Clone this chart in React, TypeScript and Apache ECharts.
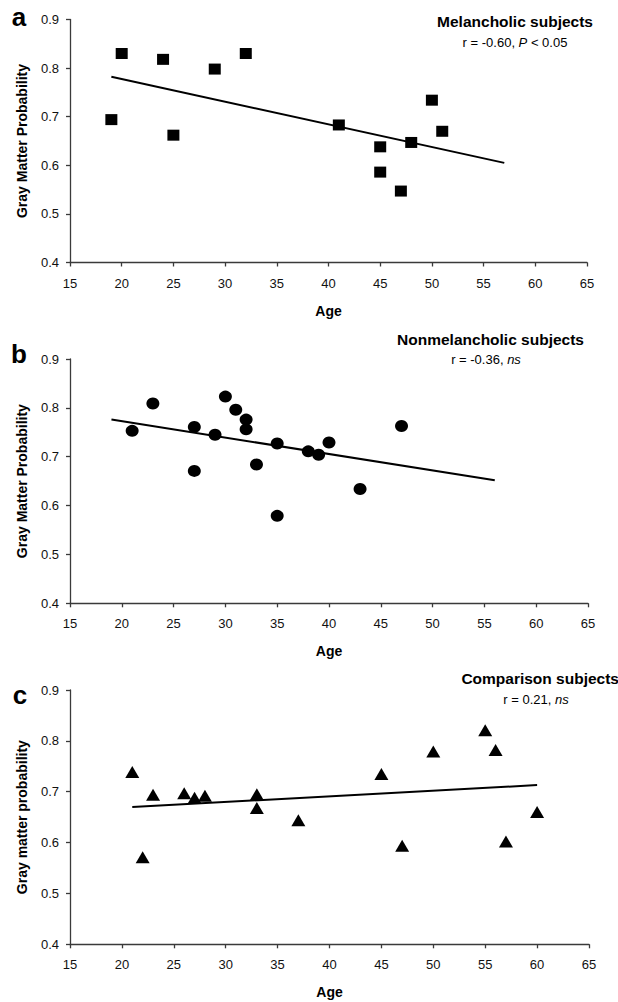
import React, { useEffect, useRef } from "react";
import * as echarts from "echarts";

// ---------- data ----------
const xTicks = [15, 20, 25, 30, 35, 40, 45, 50, 55, 60, 65];
const yTicks = [0.4, 0.5, 0.6, 0.7, 0.8, 0.9];

const melAge = [19, 20, 24, 25, 29, 32, 41, 45, 45, 47, 48, 50, 51];
const melGM = [0.694, 0.83, 0.818, 0.662, 0.798, 0.83, 0.683, 0.638, 0.586, 0.547, 0.647, 0.734, 0.67];
const melTrendAge = [19, 57];
const melTrendGM = [0.782, 0.605];

const nonAge = [21, 23, 27, 27, 29, 30, 31, 32, 32, 33, 35, 35, 38, 39, 40, 43, 47];
const nonGM = [0.753, 0.809, 0.761, 0.671, 0.745, 0.823, 0.796, 0.776, 0.756, 0.684, 0.727, 0.579, 0.711, 0.704, 0.729, 0.634, 0.763];
const nonTrendAge = [19, 56];
const nonTrendGM = [0.776, 0.652];

const cmpAge = [21, 22, 23, 26, 27, 28, 33, 33, 37, 45, 47, 50, 55, 56, 57, 60];
const cmpGM = [0.739, 0.571, 0.694, 0.697, 0.688, 0.692, 0.695, 0.668, 0.644, 0.735, 0.594, 0.779, 0.821, 0.782, 0.602, 0.66];
const cmpTrendAge = [21, 60];
const cmpTrendGM = [0.67, 0.713];

const panelLetters = ["a", "b", "c"];
const panelTitles = ["Melancholic subjects", "Nonmelancholic subjects", "Comparison subjects"];
const panelStats = [
  ["r = -0.60, ", "P", " < 0.05"],
  ["r = -0.36, ", "ns", ""],
  ["r = 0.21, ", "ns", ""],
];
const yNames = ["Gray Matter Probability", "Gray Matter Probability", "Gray matter probability"];
const xName = "Age";

// ---------- layout ----------
const FONT = "'Liberation Sans', Arial, Helvetica, sans-serif";
const grids = [
  { left: 70, top: 19.5, width: 517, height: 243 },
  { left: 70, top: 359, width: 518, height: 244.3 },
  { left: 70, top: 690, width: 519, height: 254.3 },
];
const letterPos = [
  { x: 19, y: 17 },
  { x: 19, y: 354 },
  { x: 20, y: 695 },
];
const titlePos = [
  { x: 593, y: 21 },
  { x: 584, y: 339.5 },
  { x: 619, y: 678 },
];
const statPos = [
  { x: 515, y: 42.5 },
  { x: 486, y: 359.5 },
  { x: 536, y: 699 },
];
const symbols = ["rect", "circle", "triangle"];
const symbolSizes = [
  [12, 11],
  [13, 12],
  [14, 12],
];

const zip = (a: number[], b: number[]) => a.map((v, i) => [v, b[i]]);

export default function App() {
  const ref = useRef<HTMLDivElement>(null);
  useEffect(() => {
    if (!ref.current) return;
    const chart = echarts.init(ref.current, null, { renderer: "svg" });
    const pts = [zip(melAge, melGM), zip(nonAge, nonGM), zip(cmpAge, cmpGM)];
    const trends = [zip(melTrendAge, melTrendGM), zip(nonTrendAge, nonTrendGM), zip(cmpTrendAge, cmpTrendGM)];
    const axisColor = "#3a3a3a";

    const xAxis = grids.map((_, i) => ({
      type: "value",
      gridIndex: i,
      min: xTicks[0],
      max: xTicks[xTicks.length - 1],
      interval: xTicks[1] - xTicks[0],
      name: xName,
      nameLocation: "middle",
      nameGap: 41,
      nameTextStyle: { fontFamily: FONT, fontWeight: "bold", fontSize: 14, color: "#000" },
      axisLine: { show: true, onZero: false, lineStyle: { color: axisColor, width: 1.3 } },
      axisTick: { show: true, inside: false, length: 4, lineStyle: { color: axisColor, width: 1.3 } },
      axisLabel: { fontFamily: FONT, fontSize: 13, color: "#111", margin: 14 },
      splitLine: { show: false },
    }));
    const yAxis = grids.map((_, i) => ({
      type: "value",
      gridIndex: i,
      min: yTicks[0],
      max: yTicks[yTicks.length - 1],
      interval: 0.1,
      name: yNames[i],
      nameLocation: "middle",
      nameGap: 41,
      nameTextStyle: { fontFamily: FONT, fontWeight: "bold", fontSize: 14, color: "#000" },
      axisLine: { show: true, onZero: false, lineStyle: { color: axisColor, width: 1.3 } },
      axisTick: { show: true, inside: false, length: 4, lineStyle: { color: axisColor, width: 1.3 } },
      axisLabel: {
        fontFamily: FONT,
        fontSize: 13,
        color: "#111",
        margin: 11,
        formatter: (v: number) => v.toFixed(1),
      },
      splitLine: { show: false },
    }));

    const series: any[] = [];
    for (let i = 0; i < 3; i++) {
      series.push({
        type: "line",
        xAxisIndex: i,
        yAxisIndex: i,
        data: trends[i],
        symbol: "none",
        silent: true,
        lineStyle: { color: "#000", width: 2 },
        z: 2,
      });
      series.push({
        type: "scatter",
        xAxisIndex: i,
        yAxisIndex: i,
        data: pts[i],
        symbol: symbols[i],
        symbolSize: symbolSizes[i],
        itemStyle: { color: "#000", opacity: 1 },
        z: 3,
      });
    }

    const graphic: any[] = [];
    for (let i = 0; i < 3; i++) {
      graphic.push({
        type: "text",
        x: letterPos[i].x,
        y: letterPos[i].y,
        style: {
          text: panelLetters[i],
          fontFamily: FONT,
          fontWeight: "bold",
          fontSize: 26,
          fill: "#000",
          textAlign: "center",
          textVerticalAlign: "middle",
        },
      });
      graphic.push({
        type: "text",
        x: titlePos[i].x,
        y: titlePos[i].y,
        style: {
          text: panelTitles[i],
          fontFamily: FONT,
          fontWeight: "bold",
          fontSize: 15.5,
          fill: "#000",
          textAlign: "right",
          textVerticalAlign: "middle",
        },
      });
      const [a, b, c] = panelStats[i];
      graphic.push({
        type: "text",
        x: statPos[i].x,
        y: statPos[i].y,
        style: {
          text: `{n|${a}}{it|${b}}{n|${c}}`,
          fontFamily: FONT,
          fontSize: 13,
          fill: "#000",
          textAlign: "center",
          textVerticalAlign: "middle",
          rich: {
            n: { fontFamily: FONT, fontSize: 13, fill: "#000", color: "#000" },
            it: { fontFamily: FONT, fontSize: 13, fontStyle: "italic", fill: "#000", color: "#000" },
          },
        },
      });
    }

    chart.setOption({
      animation: false,
      backgroundColor: "#fff",
      grid: grids.map((g) => ({ ...g, containLabel: false, outerBoundsMode: "none" })),
      xAxis,
      yAxis,
      series,
      graphic,
    });
    return () => chart.dispose();
  }, []);
  return (
    <div
      ref={ref}
      style={{ position: "absolute", left: 0, top: 0, width: 618, height: 1002 }}
    />
  );
}
